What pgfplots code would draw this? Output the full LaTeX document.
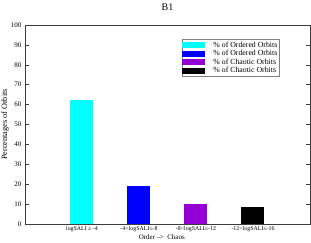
\documentclass[border=0pt]{standalone}
\usepackage{pgfplots}
\pgfplotsset{compat=1.18}
\usepackage{fontspec}
\setmainfont{Liberation Serif}
\definecolor{mycyan}{RGB}{0,255,255}
\definecolor{myblue}{RGB}{0,0,255}
\definecolor{myviolet}{RGB}{148,0,211}
\definecolor{axgray}{RGB}{60,60,60}
\begin{document}
\begin{tikzpicture}
\useasboundingbox (-25pt,-18pt) rectangle (286pt,224pt);
\begin{axis}[
  at={(0pt,0pt)}, anchor=south west,
  scale only axis, width=285pt, height=199pt,
  xmin=0, xmax=5, ymin=0, ymax=100,
  axis line style={axgray, line width=0.8pt},
  xtick={1,2,3,4},
  xticklabels={logSALI ≥ -4, -4<logSALI≤-8, -8<logSALI≤-12, -12<logSALI≤-16},
  xtick style={draw=none},
  ytick={0,10,...,100},
  tick align=inside,
  major tick length=4pt,
  ytick style={axgray, line width=0.6pt},
  /pgf/number format/assume math mode=true,
  yticklabel style={font=\fontsize{7}{8}\selectfont},
  xticklabel style={font=\fontsize{5.9}{7}\selectfont, yshift=1pt},
  title={B1},
  title style={font=\fontsize{10}{12}\selectfont, at={(axis description cs:0.5,1)}, anchor=base, yshift=9pt},
  xlabel={Order --\kern-0.5pt>\ \ Chaos},
  xlabel style={font=\fontsize{7}{8}\selectfont, at={(axis description cs:0.48,0)}, anchor=center, yshift=-13.5pt},
  ylabel={Percentages of Orbits},
  ylabel style={font=\fontsize{8.2}{9}\selectfont, at={(axis description cs:-0.07,0.5)}, anchor=center},
  legend image code/.code={\fill[#1] (0pt,-3pt) rectangle (23pt,3pt);},
  legend cell align=left,
  legend style={at={(axis description cs:0.551,0.93)}, anchor=north west,
    draw=gray, line width=0.8pt, font=\fontsize{7.8}{8}\selectfont,
    inner xsep=0pt, inner ysep=1.3pt, row sep=-0.4pt,
    nodes={inner xsep=2pt, inner ysep=1pt},
    column sep=0pt},
  legend columns=1,
  /pgfplots/legend style={/tikz/every odd column/.append style={column sep=6pt}},
]
\addplot[ybar, bar width=23pt, bar shift=0pt, fill=mycyan, draw=none] coordinates {(1,62.1)};
\addlegendentry{\% of Ordered Orbits}
\addplot[ybar, bar width=23pt, bar shift=0pt, fill=myblue, draw=none] coordinates {(2,19.3)};
\addlegendentry{\% of Ordered Orbits}
\addplot[ybar, bar width=23pt, bar shift=0pt, fill=myviolet, draw=none] coordinates {(3,10.0)};
\addlegendentry{\% of Chaotic Orbits}
\addplot[ybar, bar width=23pt, bar shift=0pt, fill=black, draw=none] coordinates {(4,8.5)};
\addlegendentry{\% of Chaotic Orbits}
\end{axis}
\end{tikzpicture}
\end{document}
